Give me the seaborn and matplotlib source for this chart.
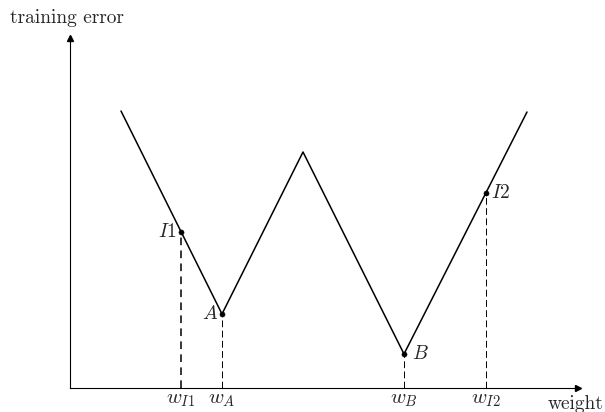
import matplotlib
matplotlib.use("Agg")
import matplotlib.pyplot as plt
import pandas as pd
import seaborn as sns

# W-shaped error curve (weight, error), arbitrary units
curve_w = [51, 152, 233, 334, 457]
curve_err = [277, 74, 236, 34, 276]

# marked points
point_names = ["I1", "A", "B", "I2"]
point_w = [111, 152, 334, 416]
point_err = [156, 74, 34, 195]
tick_labels = [r"$w_{I1}$", r"$w_A$", r"$w_B$", r"$w_{I2}$"]

sns.set_style("white")
plt.rcParams["font.family"] = ["cmr10", "DejaVu Serif"]
plt.rcParams["mathtext.fontset"] = "cm"
plt.rcParams["axes.formatter.use_mathtext"] = True

fig = plt.figure(figsize=(6.05, 4.12), dpi=100)
ax = fig.add_axes([70 / 605, 24 / 412, 508 / 605, 350 / 412])

df = pd.DataFrame({"w": curve_w, "err": curve_err})
sns.lineplot(data=df, x="w", y="err", color="black", linewidth=1.1, ax=ax, sort=False)

pts = pd.DataFrame({"w": point_w, "err": point_err, "name": point_names})
sns.scatterplot(data=pts, x="w", y="err", color="black", s=14, ax=ax, zorder=5,
                edgecolor="black")

# dashed drop lines
for i, (w, e) in enumerate(zip(point_w, point_err)):
    if i == 0:
        ax.plot([w, w], [0, e], color="black", lw=1.1, dashes=(5, 3.5))
    else:
        ax.plot([w, w], [0, e], color="black", lw=0.7, dashes=(7, 3.5))

# point labels
offsets = {"I1": (-4, "right"), "A": (-4, "right"), "B": (8, "left"), "I2": (5, "left")}
for w, e, n in zip(point_w, point_err, point_names):
    dx, ha = offsets[n]
    ax.text(w + dx, e, rf"${n}$", ha=ha, va="center", fontsize=14)

ax.set_xlim(0, 508)
ax.set_ylim(0, 350)
ax.set_xticks(point_w)
ax.set_xticklabels(tick_labels, fontsize=15)
ax.set_yticks([])
ax.tick_params(axis="x", length=0, pad=2)
ax.set_xlabel("")
ax.set_ylabel("")

for s in ["top", "right"]:
    ax.spines[s].set_visible(False)
for s in ["left", "bottom"]:
    ax.spines[s].set_linewidth(0.8)
    ax.spines[s].set_color("black")

# arrow heads
ax.plot(1, 0, ">k", ms=5, transform=ax.get_yaxis_transform(), clip_on=False)
ax.plot(0, 1, "^k", ms=5, transform=ax.get_xaxis_transform(), clip_on=False)

fig.text(10 / 605, 1 - 18 / 412, "training error", fontsize=14, ha="left", va="center")
fig.text(548 / 605, 1 - 404 / 412, "weight", fontsize=14, ha="left", va="center")

fig.savefig("out.png", dpi=100)
